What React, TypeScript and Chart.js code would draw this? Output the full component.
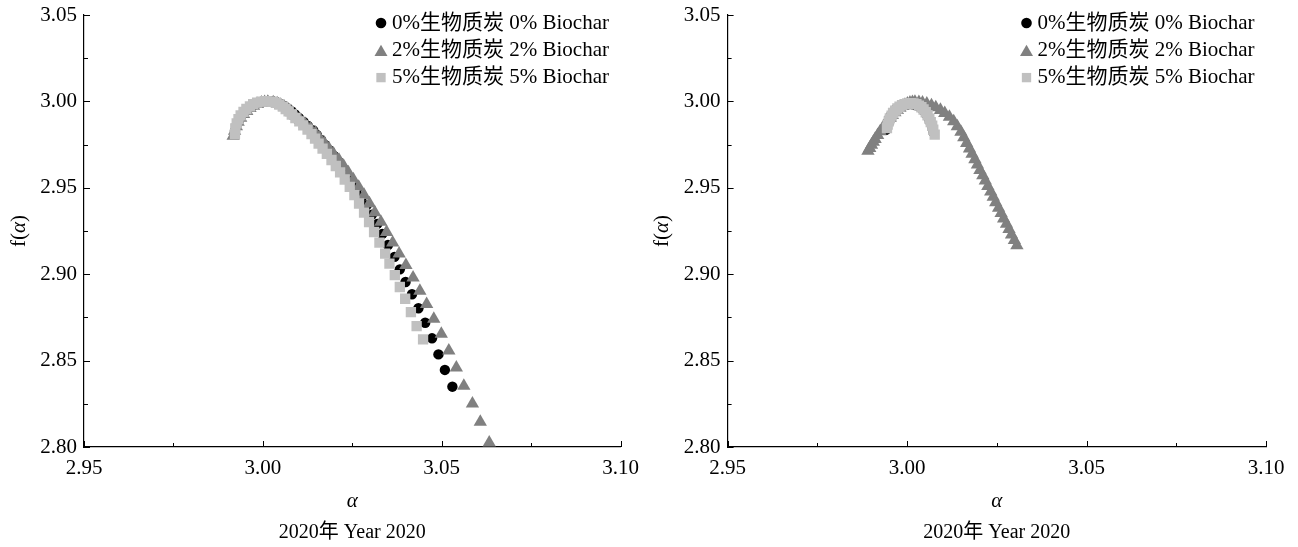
import React, { useEffect, useRef } from 'react';
import { Chart, registerables } from 'chart.js';

Chart.register(...registerables);

// ---------- data ----------
const SERIES_LABELS = ['0%生物质炭 0% Biochar', '2%生物质炭 2% Biochar', '5%生物质炭 5% Biochar'];
const CAPTION = '2020年 Year 2020';
const X_MIN = 2.95, X_MAX = 3.10, Y_MIN = 2.80, Y_MAX = 3.05, TICK_STEP = 0.025;

// left panel
const leftAlpha0 = [2.9922, 2.9926, 2.9932, 2.9938, 2.9946, 2.9955, 2.9964, 2.9974, 2.9985, 2.9996, 3.0005, 3.0014,
  3.0029, 3.0040, 3.0050, 3.0060, 3.0070, 3.0081, 3.0090, 3.0101, 3.0114, 3.0126,
  3.0141, 3.0151, 3.0163, 3.0174, 3.0187, 3.0199, 3.0213, 3.0224, 3.0236, 3.0249,
  3.0263, 3.0277, 3.0290, 3.0305, 3.0320, 3.0334, 3.0350, 3.0368, 3.0383, 3.0399,
  3.0417, 3.0435, 3.0454, 3.0473, 3.0491, 3.0509, 3.0530];
const leftF0 = [2.9829, 2.9858, 2.9884, 2.9908, 2.9930, 2.9949, 2.9965, 2.9979, 2.9990, 2.9997, 3.0001, 3.0002,
  2.9999, 2.9994, 2.9985, 2.9973, 2.9959, 2.9942, 2.9924, 2.9904, 2.9881, 2.9858,
  2.9832, 2.9806, 2.9777, 2.9748, 2.9716, 2.9684, 2.9649, 2.9615, 2.9577, 2.9536,
  2.9493, 2.9447, 2.9398, 2.9345, 2.9291, 2.9233, 2.9169, 2.9100, 2.9028, 2.8955,
  2.8884, 2.8803, 2.8719, 2.8629, 2.8536, 2.8446, 2.8349];

const leftAlpha2 = [2.9917, 2.9921, 2.9926, 2.9931, 2.9938, 2.9946, 2.9955, 2.9964, 2.9974, 2.9985, 2.9996, 3.0005, 3.0014,
  3.0029, 3.0040, 3.0050, 3.0060, 3.0070, 3.0081, 3.0092, 3.0105, 3.0118, 3.0133,
  3.0147, 3.0159, 3.0172, 3.0185, 3.0198, 3.0213, 3.0226, 3.0239, 3.0253, 3.0268,
  3.0283, 3.0298, 3.0313, 3.0330, 3.0346, 3.0363, 3.0381, 3.0400, 3.0420, 3.0439,
  3.0458, 3.0478, 3.0499, 3.0520, 3.0541, 3.0562, 3.0586, 3.0608, 3.0633];
const leftF2 = [2.9800, 2.9829, 2.9856, 2.9882, 2.9905, 2.9926, 2.9944, 2.9961, 2.9974, 2.9984, 2.9992, 2.9995, 2.9997,
  2.9994, 2.9988, 2.9979, 2.9968, 2.9953, 2.9936, 2.9916, 2.9892, 2.9869, 2.9843,
  2.9817, 2.9788, 2.9759, 2.9727, 2.9696, 2.9661, 2.9626, 2.9589, 2.9548, 2.9505,
  2.9458, 2.9409, 2.9357, 2.9302, 2.9244, 2.9183, 2.9119, 2.9052, 2.8980, 2.8903,
  2.8826, 2.8741, 2.8654, 2.8557, 2.8459, 2.8353, 2.8251, 2.8145, 2.8025];

const leftAlpha5 = [2.9922, 2.9923, 2.9927, 2.9932, 2.9938, 2.9946, 2.9954, 2.9964, 2.9973, 2.9984, 2.9995, 3.0006,
  3.0017, 3.0028, 3.0037, 3.0046, 3.0056, 3.0064, 3.0072, 3.0081, 3.0091, 3.0102,
  3.0113, 3.0125, 3.0136, 3.0146, 3.0156, 3.0167, 3.0179, 3.0192, 3.0204, 3.0216,
  3.0229, 3.0243, 3.0256, 3.0269, 3.0283, 3.0297, 3.0311, 3.0326, 3.0342, 3.0354,
  3.0369, 3.0383, 3.0398, 3.0414, 3.0430, 3.0448];
const leftF5 = [2.9811, 2.9843, 2.9873, 2.9897, 2.9919, 2.9939, 2.9956, 2.9971, 2.9984, 2.9993, 2.9999, 3.0001,
  2.9999, 2.9997, 2.9991, 2.9982, 2.9970, 2.9956, 2.9942, 2.9924, 2.9904, 2.9884,
  2.9861, 2.9837, 2.9811, 2.9785, 2.9756, 2.9727, 2.9696, 2.9661, 2.9626, 2.9589,
  2.9548, 2.9505, 2.9458, 2.9409, 2.9357, 2.9302, 2.9244, 2.9183, 2.9119, 2.9061,
  2.8995, 2.8926, 2.8858, 2.8781, 2.8700, 2.8623];

// right panel
const rightAlpha0 = [2.9941, 2.9944, 2.9947, 2.9951, 2.9956, 2.9962, 2.9968, 2.9975, 2.9983, 2.9991, 3.0000, 3.0008,
  3.0017, 3.0025, 3.0033, 3.0040, 3.0047, 3.0053, 3.0058, 3.0063, 3.0067, 3.0071, 3.0074];
const rightF0 = [2.9836, 2.9861, 2.9883, 2.9904, 2.9922, 2.9939, 2.9953, 2.9964, 2.9973, 2.9980, 2.9983, 2.9984,
  2.9983, 2.9979, 2.9972, 2.9961, 2.9947, 2.9930, 2.9911, 2.9890, 2.9868, 2.9845, 2.9821];

const rightAlpha2 = [2.9891, 2.9896, 2.9901, 2.9906, 2.9911, 2.9918, 2.9925, 2.9932, 2.9939, 2.9946, 2.9953, 2.9959,
  2.9966, 2.9973, 2.9980, 2.9987, 2.9994, 3.0001, 3.0008, 3.0015, 3.0022,
  3.0033, 3.0043, 3.0055, 3.0068, 3.0080, 3.0093, 3.0105, 3.0118, 3.0130, 3.0140, 3.0150,
  3.0158, 3.0166, 3.0174, 3.0181, 3.0189, 3.0196, 3.0203, 3.0211, 3.0218, 3.0225,
  3.0233, 3.0240, 3.0247, 3.0255, 3.0262, 3.0269, 3.0277, 3.0284, 3.0291, 3.0299, 3.0306];
const rightF2 = [2.9713, 2.9730, 2.9748, 2.9765, 2.9782, 2.9804, 2.9826, 2.9846, 2.9866, 2.9885, 2.9904, 2.9920,
  2.9936, 2.9949, 2.9962, 2.9972, 2.9980, 2.9987, 2.9992, 2.9995, 2.9997,
  2.9995, 2.9992, 2.9986, 2.9977, 2.9965, 2.9950, 2.9932, 2.9910, 2.9884, 2.9855, 2.9823,
  2.9791, 2.9759, 2.9727, 2.9696, 2.9665, 2.9634, 2.9602, 2.9572, 2.9541, 2.9509,
  2.9478, 2.9447, 2.9416, 2.9384, 2.9353, 2.9322, 2.9291, 2.9260, 2.9229, 2.9197, 2.9166];

const rightAlpha5 = [2.9944, 2.9946, 2.9949, 2.9952, 2.9957, 2.9961, 2.9967, 2.9973, 2.9979, 2.9986, 2.9993, 3.0001,
  3.0010, 3.0018, 3.0026, 3.0033, 3.0040, 3.0046, 3.0052, 3.0057, 3.0062, 3.0066, 3.0070, 3.0073, 3.0077];
const rightF5 = [2.9846, 2.9866, 2.9884, 2.9902, 2.9918, 2.9933, 2.9947, 2.9959, 2.9969, 2.9978, 2.9984, 2.9988,
  2.9990, 2.9988, 2.9984, 2.9976, 2.9966, 2.9953, 2.9937, 2.9920, 2.9900, 2.9880, 2.9859, 2.9836, 2.9808];

// ---------- styles ----------
const FONT = '"Liberation Serif", "Times New Roman", "Noto Sans CJK SC", serif';
const COLORS = ['#000000', '#808080', '#c0c0c0'];
const STYLES = ['circle', 'triangle', 'rect'];
const RADII = [5.2, 7.7, 7.3];
const LEGEND_RADII = [5.3, 7.5, 6.6];
const ORDERS = [3, 2, 1]; // squares on top, circles at the bottom

const isMajor = (v: number) => Math.abs(Math.round(v / TICK_STEP)) % 2 === 0;

function drawMarker(ctx: CanvasRenderingContext2D, style: string, x: number, y: number, r: number) {
  ctx.beginPath();
  if (style === 'circle') {
    ctx.arc(x, y, r, 0, Math.PI * 2);
  } else if (style === 'triangle') {
    const yc = y + r * 0.25;
    ctx.moveTo(x, yc - r);
    ctx.lineTo(x + r * Math.sin((2 * Math.PI) / 3), yc - r * Math.cos((2 * Math.PI) / 3));
    ctx.lineTo(x + r * Math.sin((4 * Math.PI) / 3), yc - r * Math.cos((4 * Math.PI) / 3));
    ctx.closePath();
  } else {
    const s = r * Math.SQRT1_2;
    ctx.rect(x - s, y - s, 2 * s, 2 * s);
  }
  ctx.fill();
}

const decorPlugin = {
  id: 'decor',
  afterDraw(chart: any) {
    const { ctx, chartArea: ca } = chart;
    const xs = chart.scales.x;
    const ys = chart.scales.y;
    ctx.save();
    // inward ticks
    ctx.strokeStyle = '#000';
    ctx.lineWidth = 1;
    for (const t of xs.ticks) {
      const px = Math.round(xs.getPixelForValue(t.value)) + 0.5;
      const len = isMajor(t.value) ? 6 : 4;
      ctx.beginPath();
      ctx.moveTo(px, ca.bottom);
      ctx.lineTo(px, ca.bottom - len);
      ctx.stroke();
    }
    for (const t of ys.ticks) {
      const py = Math.round(ys.getPixelForValue(t.value)) + 0.5;
      const len = isMajor(t.value) ? 6 : 4;
      ctx.beginPath();
      ctx.moveTo(ca.left, py);
      ctx.lineTo(ca.left + len, py);
      ctx.stroke();
    }
    // y axis title f(α) with italic α
    ctx.save();
    ctx.translate(ca.left - 65, (ca.top + ca.bottom) / 2);
    ctx.rotate(-Math.PI / 2);
    ctx.fillStyle = '#000';
    ctx.textBaseline = 'middle';
    ctx.textAlign = 'left';
    const normal = `21px ${FONT}`;
    const italic = `italic 21px ${FONT}`;
    const parts: [string, string][] = [['f(', normal], ['α', italic], [')', normal]];
    let total = 0;
    for (const [s, f] of parts) { ctx.font = f; total += ctx.measureText(s).width; }
    let cx = -total / 2;
    for (const [s, f] of parts) { ctx.font = f; ctx.fillText(s, cx, 0); cx += ctx.measureText(s).width; }
    ctx.restore();
    // legend
    ctx.font = `21px ${FONT}`;
    ctx.textBaseline = 'middle';
    ctx.textAlign = 'left';
    chart.data.datasets.forEach((ds: any, i: number) => {
      const y = ca.top + 8 + i * 27.3;
      ctx.fillStyle = ds.pointBackgroundColor;
      drawMarker(ctx, ds.pointStyle, ca.right - 239.5, y, LEGEND_RADII[i]);
      ctx.fillStyle = '#000';
      ctx.fillText(ds.label, ca.right - 228.5, y);
    });
    ctx.restore();
  },
};

type PanelProps = {
  left: number;
  yAxisWidth: number;
  padRight: number;
  alphas: number[][];
  fs: number[][];
};

function Panel({ left, yAxisWidth, padRight, alphas, fs }: PanelProps) {
  const ref = useRef<HTMLCanvasElement>(null);
  useEffect(() => {
    if (!ref.current) return;
    const datasets = alphas.map((a, i) => ({
      label: SERIES_LABELS[i],
      data: a.map((v, j) => ({ x: v, y: fs[i][j] })),
      pointStyle: STYLES[i],
      pointRadius: RADII[i],
      pointHoverRadius: RADII[i],
      pointBackgroundColor: COLORS[i],
      backgroundColor: COLORS[i],
      pointBorderWidth: 0,
      borderWidth: 0,
      showLine: false,
      order: ORDERS[i],
    }));
    const tickFont = { family: FONT, size: 21 };
    const chart = new Chart(ref.current, {
      type: 'scatter',
      data: { datasets },
      options: {
        animation: false,
        responsive: false,
        maintainAspectRatio: false,
        events: [],
        layout: { padding: { left: 0, right: padRight, top: 15, bottom: 0 } },
        plugins: {
          legend: { display: false },
          tooltip: { enabled: false },
          title: {
            display: true,
            position: 'bottom',
            fullSize: false,
            text: CAPTION,
            color: '#000',
            font: { family: FONT, size: 20, weight: 'normal' },
            padding: { top: 6, bottom: 2 },
          },
        },
        scales: {
          x: {
            type: 'linear',
            min: X_MIN,
            max: X_MAX,
            grid: { display: false, drawTicks: false },
            border: { display: true, color: '#000', width: 1.2 },
            ticks: {
              stepSize: TICK_STEP,
              autoSkip: false,
              maxRotation: 0,
              padding: 9,
              color: '#000',
              font: tickFont,
              callback: (v: any) => (isMajor(Number(v)) ? Number(v).toFixed(2) : ''),
            },
            title: {
              display: true,
              text: 'α',
              color: '#000',
              font: { family: FONT, size: 21, style: 'italic' },
              padding: { top: 0, bottom: 1.4 },
            },
            afterFit: (s: any) => { s.height = 68; },
          },
          y: {
            type: 'linear',
            min: Y_MIN,
            max: Y_MAX,
            grid: { display: false, drawTicks: false },
            border: { display: true, color: '#000', width: 1.2 },
            ticks: {
              stepSize: TICK_STEP,
              autoSkip: false,
              padding: 7,
              color: '#000',
              font: tickFont,
              callback: (v: any) => (isMajor(Number(v)) ? Number(v).toFixed(2) : ''),
            },
            afterFit: (s: any) => { s.width = yAxisWidth; s.paddingTop = 0; s.paddingBottom = 0; },
          },
        },
      },
      plugins: [decorPlugin],
    } as any);
    return () => chart.destroy();
  }, []);
  return (
    <div style={{ position: 'absolute', left, top: 0, width: 649, height: 547 }}>
      <canvas ref={ref} width={649} height={547} style={{ width: 649, height: 547, display: 'block' }} />
    </div>
  );
}

export default function App() {
  return (
    <div style={{ position: 'absolute', left: 0, top: 0, width: 1298, height: 547, background: '#fff' }}>
      <Panel left={0} yAxisWidth={84} padRight={28.5}
        alphas={[leftAlpha0, leftAlpha2, leftAlpha5]} fs={[leftF0, leftF2, leftF5]} />
      <Panel left={649} yAxisWidth={78.6} padRight={32}
        alphas={[rightAlpha0, rightAlpha2, rightAlpha5]} fs={[rightF0, rightF2, rightF5]} />
    </div>
  );
}
